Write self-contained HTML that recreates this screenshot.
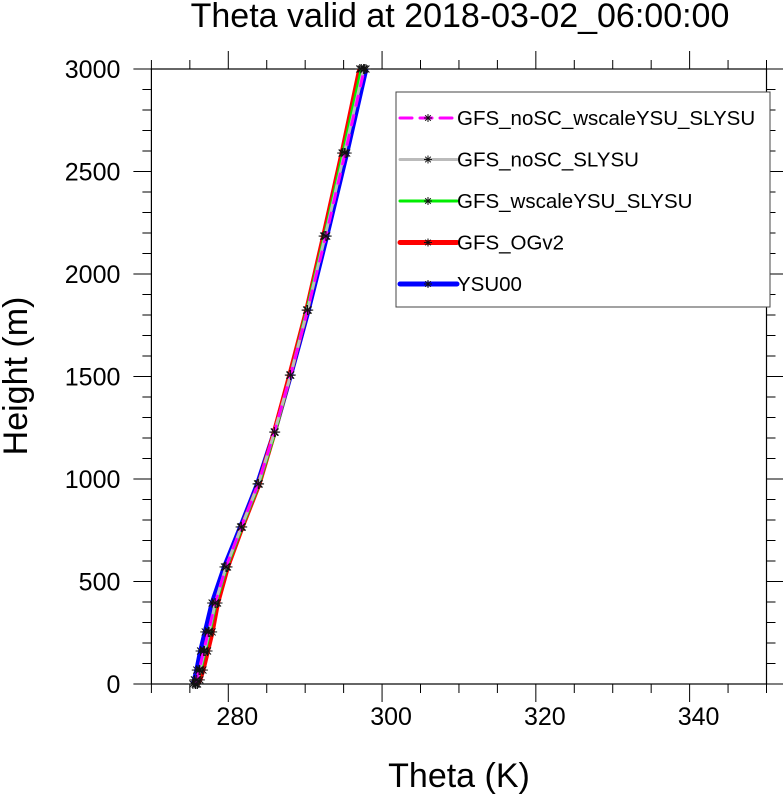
<!DOCTYPE html>
<html><head><meta charset="utf-8"><style>
body{margin:0;background:#fff;font-family:"Liberation Sans",sans-serif}
</style></head><body>
<svg width="783" height="796" xmlns="http://www.w3.org/2000/svg" font-family="Liberation Sans, sans-serif">
<text x="460" y="27" font-size="34" text-anchor="middle">Theta valid at 2018-03-02_06:00:00</text>
<g id="axes"></g>
<g id="series"></g>
<g id="legend"></g>
<text x="459" y="787" font-size="34" text-anchor="middle">Theta (K)</text>
<text transform="translate(27,376) rotate(-90)" font-size="34" text-anchor="middle">Height (m)</text>
</svg>
<script>
const heights=[0,20,68,161,254,395,571,766,976,1229,1507,1824,2185,2590,3000];
const seriesNames=["GFS_noSC_wscaleYSU_SLYSU","GFS_noSC_SLYSU","GFS_wscaleYSU_SLYSU","GFS_OGv2","YSU00"];
const thetaPink =[275.7,275.9,276.2,276.8,277.4,278.3,279.7,281.7,283.9,286.0,288.1,290.3,292.7,295.2,297.7];
const thetaGray =[275.8,276.0,276.3,276.9,277.5,278.3,279.7,281.7,283.9,286.0,288.1,290.3,292.6,295.1,297.6];
const thetaGreen=[275.8,276.0,276.4,277.0,277.6,278.4,279.8,281.8,284.0,286.1,288.1,290.2,292.5,294.9,297.3];
const thetaRed  =[276.0,276.3,276.7,277.3,277.9,278.6,279.9,281.8,284.0,286.0,288.0,290.2,292.4,294.8,297.1];
const thetaBlue =[275.4,275.6,275.9,276.4,277.0,277.9,279.5,281.6,283.8,286.0,288.1,290.4,292.8,295.4,297.9];
const xTicks=[280,300,320,340];
const yTicks=[0,500,1000,1500,2000,2500,3000];
const NS="http://www.w3.org/2000/svg";
const X0=151.4,X1=766.5,Y0=684,Y1=69;
const xs=v=>X0+(v-270)/80*(X1-X0);
const ys=v=>Y0-(v/3000)*(Y0-Y1);
function mk(t,a,p){const e=document.createElementNS(NS,t);for(const k in a)e.setAttribute(k,a[k]);p.appendChild(e);return e;}
const ax=document.getElementById('axes');
const frame=mk('rect',{x:X0,y:Y1,width:X1-X0,height:Y0-Y1,fill:'none',stroke:'#000','stroke-width':1.2},ax);


for(let v=270;v<=350;v+=5){const x=xs(v);const maj=(v%20===0);
 const t=mk('line',{x1:x,x2:x,y1:Y0,y2:Y0+(maj?18:9),stroke:'#000','stroke-width':1},ax);
 
 const t2=mk('line',{x1:x,x2:x,y1:Y1,y2:Y1-(maj?18:9),stroke:'#000','stroke-width':1},ax);
 }
xTicks.forEach(v=>{const t=mk('text',{x:xs(v)+9,y:Y0+41,'font-size':25,'text-anchor':'middle'},ax);t.textContent=v;
 });
for(let v=0;v<=3000;v+=100){const y=ys(v);const maj=(v%500===0);
 const t=mk('line',{x1:X0,x2:X0-(maj?18:9),y1:y,y2:y,stroke:'#000','stroke-width':1},ax);
 
 const t2=mk('line',{x1:X1,x2:X1+(maj?18:9),y1:y,y2:y,stroke:'#000','stroke-width':1},ax);
 }
yTicks.forEach(v=>{const t=mk('text',{x:X0-31,y:ys(v)+9,'font-size':25,'text-anchor':'end'},ax);t.textContent=v;
 });
const styles=[
 {d:thetaBlue,c:'#0000ff',w:5,dash:''},
 {d:thetaRed,c:'#ff0000',w:5,dash:''},
 {d:thetaGreen,c:'#00ee00',w:3,dash:''},
 {d:thetaGray,c:'#bbbbbb',w:3,dash:''},
 {d:thetaPink,c:'#ff00ff',w:3,dash:'12,8'}];
const sg=document.getElementById('series');
function star(g,x,y,r){[[r,0],[0,r],[r*0.7,r*0.7],[r*0.7,-r*0.7]].forEach(([dx,dy])=>{
 const l=mk('line',{x1:x-dx,y1:y-dy,x2:x+dx,y2:y+dy,stroke:'#111','stroke-width':1},g);
 });}
styles.forEach((s,i)=>{
 const g=mk('g',{},sg);
 
 
 const p=mk('polyline',{points:s.d.map((v,k)=>xs(v)+','+ys(heights[k])).join(' '),fill:'none',stroke:s.c,'stroke-width':s.w,'stroke-dasharray':s.dash,'stroke-linejoin':'round'},g);
 
 s.d.forEach((v,k)=>star(g,xs(v),ys(heights[k]),5));
});
const lg=document.getElementById('legend');
const box=mk('rect',{x:396,y:92,width:374,height:215,fill:'#fff',stroke:'#444','stroke-width':1},lg);

const lst=[{c:'#ff00ff',w:3,dash:'12,8'},{c:'#bbbbbb',w:3,dash:''},{c:'#00ee00',w:3,dash:''},{c:'#ff0000',w:5,dash:''},{c:'#0000ff',w:5,dash:''}];
lst.forEach((s,i)=>{const y=118+i*41.5;
 const g=mk('g',{},lg);
 
 const l=mk('line',{x1:400,x2:457,y1:y,y2:y,stroke:s.c,'stroke-width':s.w,'stroke-dasharray':s.dash,'stroke-linecap':'round'},g);
 
 star(g,428,y,4);
 const t=mk('text',{x:457,y:y+7,'font-size':20.5},g);t.textContent=seriesNames[i];
 });
</script>
</body></html>
